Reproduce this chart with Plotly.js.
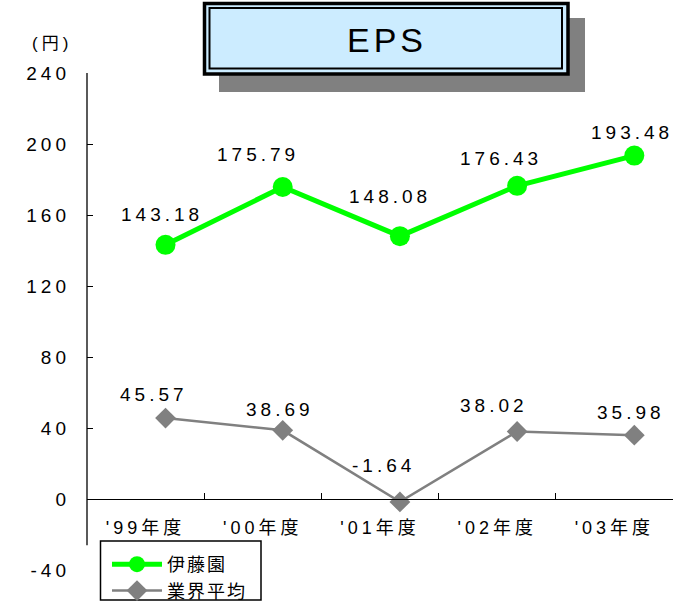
<!DOCTYPE html>
<html>
<head>
<meta charset="utf-8">
<script src="https://cdn.plot.ly/plotly-3.0.1.min.js"></script>
<style>
  html, body { margin: 0; padding: 0; background: #fff; }
  #chart { width: 689px; height: 603px; }
  .annotation-text { letter-spacing: 4px; }
  .ytick text, .x2tick text { letter-spacing: 4px; }
  .legendtext { letter-spacing: 2px; }
</style>
</head>
<body>
<div id="chart"></div>
<script>
// ---- data ----
const categories = ["'99年度", "'00年度", "'01年度", "'02年度", "'03年度"];
const seriesNames = ["伊藤園", "業界平均"];
const itoen = [143.18, 175.79, 148.08, 176.43, 193.48];
const industry = [45.57, 38.69, -1.64, 38.02, 35.98];
const yTickValues = [-40, 0, 40, 80, 120, 160, 200, 240];
const yTickLabels = ["-40", "0", "40", "80", "120", "160", "200", "240"];
const chartTitle = "EPS";
const unitLabel = "(円)";

// ---- style ----
const FONT = "'Liberation Sans', Arial, 'Noto Sans CJK JP', sans-serif";
const W = 689, H = 603, ML = 87, MR = 16, MT = 73, MB = 33;
const PW = W - ML - MR, PH = H - MT - MB;
const fx = px => (px - ML) / PW;
const fy = py => (H - MB - py) / PH;
const yMin = -40, yMax = 240;
const pointShift = 0.17; // points drawn right of category centre
// label offsets in pixels (dx, dy) from each point
const greenDx = [-4, -25, -10, -16, -2], greenDy = [-30, -32, -40, -27, -23];
const grayDx = [-12, -3, -16, -23, -3], grayDy = [-24, -21, -36, -26, -23];

const traces = [
  {
    x: categories, y: itoen, name: seriesNames[0], type: 'scatter', mode: 'lines+markers',
    xaxis: 'x', yaxis: 'y',
    line: { color: '#00FF00', width: 5 },
    marker: { symbol: 'circle', size: 20, color: '#00FF00' },
    hoverinfo: 'skip'
  },
  {
    x: categories, y: industry, name: seriesNames[1], type: 'scatter', mode: 'lines+markers',
    xaxis: 'x', yaxis: 'y',
    line: { color: '#808080', width: 2.5 },
    marker: { symbol: 'diamond', size: 16, color: '#808080' },
    hoverinfo: 'skip'
  },
  {
    x: categories, y: categories.map(() => null), xaxis: 'x2', yaxis: 'y',
    type: 'scatter', mode: 'markers', showlegend: false, hoverinfo: 'skip'
  }
];

const annotations = [];
itoen.forEach((v, i) => annotations.push({
  xref: 'x', yref: 'y', x: categories[i], y: v, text: v.toFixed(2), showarrow: false,
  xshift: greenDx[i], yshift: -greenDy[i], font: { family: FONT, size: 19, color: '#000' }
}));
industry.forEach((v, i) => annotations.push({
  xref: 'x', yref: 'y', x: categories[i], y: v, text: v.toFixed(2), showarrow: false,
  xshift: grayDx[i], yshift: -grayDy[i], font: { family: FONT, size: 19, color: '#000' }
}));
annotations.push({
  xref: 'paper', yref: 'paper', x: fx(387), y: fy(40), text: chartTitle, showarrow: false,
  xanchor: 'center', yanchor: 'middle', font: { family: FONT, size: 34, color: '#000' }
});
annotations.push({
  xref: 'paper', yref: 'paper', x: fx(52), y: fy(43), text: unitLabel, showarrow: false,
  xanchor: 'center', yanchor: 'middle', font: { family: FONT, size: 17, color: '#000' }
});

const shapes = [
  // title shadow
  { type: 'rect', xref: 'paper', yref: 'paper', x0: fx(219), x1: fx(585), y0: fy(92), y1: fy(18),
    fillcolor: '#808080', line: { width: 0 }, layer: 'above' },
  // title box
  { type: 'rect', xref: 'paper', yref: 'paper', x0: fx(204.5), x1: fx(568), y0: fy(74), y1: fy(3.5),
    fillcolor: '#CCECFF', line: { color: '#000', width: 3.5 }, layer: 'above' },
  { type: 'rect', xref: 'paper', yref: 'paper', x0: fx(209.5), x1: fx(562), y0: fy(68.5), y1: fy(8),
    fillcolor: 'rgba(0,0,0,0)', line: { color: '#000', width: 2 }, layer: 'above' },
  // y axis line
  { type: 'line', xref: 'paper', yref: 'y', x0: 0, x1: 0, y0: -26, y1: yMax,
    line: { color: '#000', width: 1.3 } },
  // legend box
  { type: 'rect', xref: 'paper', yref: 'paper', x0: fx(100.5), x1: fx(261), y0: fy(600), y1: fy(541),
    fillcolor: '#fff', line: { color: '#000', width: 1.5 }, layer: 'below' }
];

const layout = {
  width: W, height: H,
  margin: { l: ML, r: MR, t: MT, b: MB, pad: 0, autoexpand: false },
  paper_bgcolor: '#fff', plot_bgcolor: 'rgba(0,0,0,0)',
  font: { family: FONT, size: 18, color: '#000' },
  showlegend: true,
  legend: {
    x: fx(107), y: fy(546), xanchor: 'left', yanchor: 'top',
    bgcolor: 'rgba(0,0,0,0)', borderwidth: 0,
    font: { family: FONT, size: 18, color: '#000' },
    itemwidth: 50, tracegroupgap: 0
  },
  xaxis: {
    type: 'category', visible: false, range: [-0.5 - pointShift, 4.5 - pointShift],
    showgrid: false, zeroline: false, fixedrange: true
  },
  xaxis2: {
    type: 'category', overlaying: 'x', anchor: 'free', position: (0 - yMin) / (yMax - yMin),
    side: 'bottom', range: [-0.5, 4.5], tickson: 'boundaries', ticks: 'inside', ticklen: 6,
    tickwidth: 1, tickcolor: '#000', showline: true, linecolor: '#000', linewidth: 1.3,
    showgrid: false, zeroline: false, ticklabelstandoff: 12,
    tickfont: { family: FONT, size: 18, color: '#000' }
  },
  yaxis: {
    range: [yMin, yMax], tickmode: 'array', tickvals: yTickValues, ticktext: yTickLabels,
    ticks: 'inside', ticklen: 6, tickwidth: 1, tickcolor: '#000',
    showline: false, showgrid: false, zeroline: false, ticklabelstandoff: 16,
    tickfont: { family: FONT, size: 19, color: '#000' }
  },
  annotations: annotations,
  shapes: shapes
};

Plotly.newPlot('chart', traces, layout, { displayModeBar: false, staticPlot: true });
</script>
</body>
</html>
